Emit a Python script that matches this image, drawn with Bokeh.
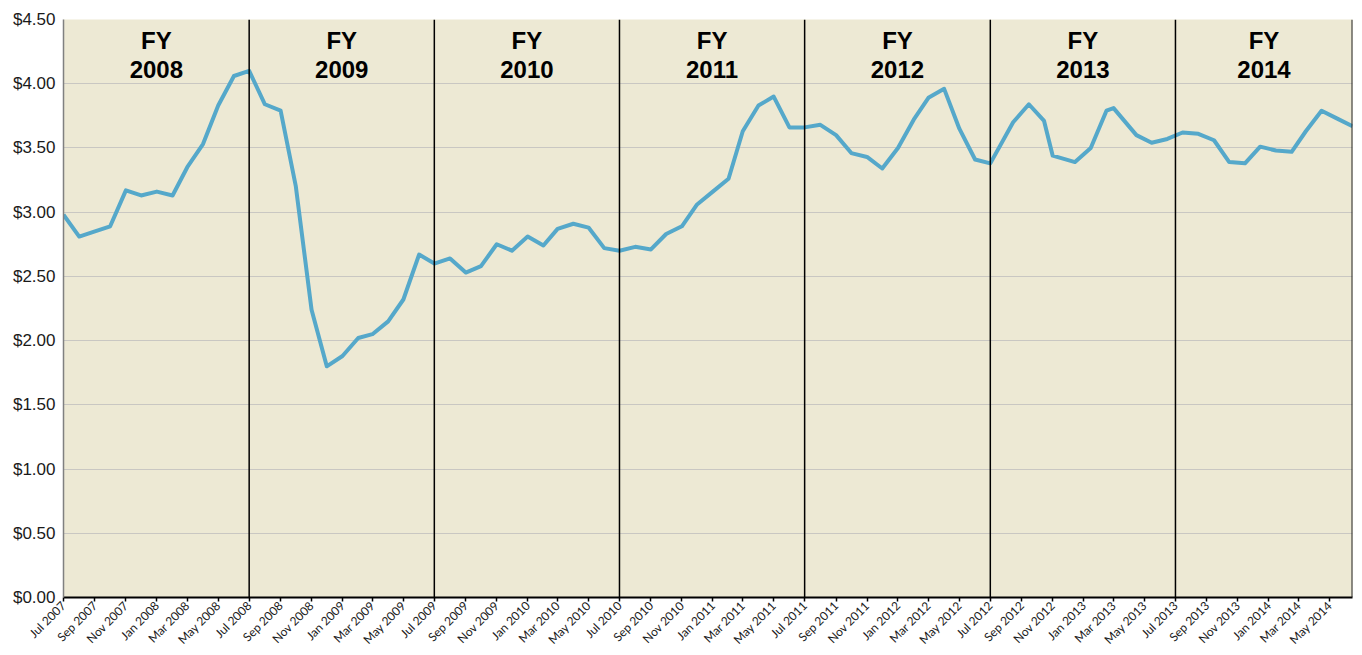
import math
import pandas as pd
from bokeh.plotting import figure
from bokeh.models import (Range1d, FixedTicker, DatetimeTickFormatter, Span,
                          NumeralTickFormatter, ColumnDataSource)
from bokeh.core.properties import value
from bokeh.embed import file_html
from bokeh.resources import INLINE

# ---- data ----
dates = [
    "2007-07-01", "2007-08-01", "2007-09-01", "2007-10-01", "2007-11-01", "2007-12-01",
    "2008-01-01", "2008-02-01", "2008-03-01", "2008-04-01", "2008-05-01", "2008-06-01",
    "2008-07-01", "2008-08-01", "2008-09-01", "2008-10-01", "2008-11-01", "2008-12-01",
    "2009-01-01", "2009-02-01", "2009-03-01", "2009-04-01", "2009-05-01", "2009-06-01",
    "2009-07-01", "2009-08-01", "2009-09-01", "2009-10-01", "2009-11-01", "2009-12-01",
    "2010-01-01", "2010-02-01", "2010-03-01", "2010-04-01", "2010-05-01", "2010-06-01",
    "2010-07-01", "2010-08-01", "2010-09-01", "2010-10-01", "2010-11-01", "2010-12-01",
    "2011-01-01", "2011-02-01", "2011-03-01", "2011-04-01", "2011-05-01", "2011-06-01",
    "2011-07-01", "2011-08-01", "2011-09-01", "2011-10-01", "2011-11-01", "2011-12-01",
    "2012-01-01", "2012-02-01", "2012-03-01", "2012-04-01", "2012-05-01", "2012-06-01",
    "2012-07-01", "2012-08-15", "2012-09-15", "2012-10-15", "2012-11-01", "2012-12-15",
    "2013-01-15", "2013-02-15", "2013-03-01", "2013-04-15", "2013-05-15", "2013-06-15",
    "2013-07-15", "2013-08-15", "2013-09-15", "2013-10-15", "2013-11-15", "2013-12-15",
    "2014-01-15", "2014-02-15", "2014-03-15", "2014-04-15", "2014-05-15", "2014-06-15",
]
prices = [
    2.98, 2.81, 2.85, 2.89, 3.17, 3.13,
    3.16, 3.13, 3.35, 3.53, 3.83, 4.06,
    4.10, 3.84, 3.79, 3.20, 2.24, 1.80,
    1.88, 2.02, 2.05, 2.15, 2.32, 2.67,
    2.60, 2.64, 2.53, 2.58, 2.75, 2.70,
    2.81, 2.74, 2.87, 2.91, 2.88, 2.72,
    2.70, 2.73, 2.71, 2.83, 2.89, 3.06,
    3.16, 3.26, 3.63, 3.83, 3.90, 3.66,
    3.66, 3.68, 3.60, 3.46, 3.43, 3.34,
    3.50, 3.72, 3.89, 3.96, 3.65, 3.41,
    3.38, 3.70, 3.84, 3.71, 3.44, 3.39,
    3.50, 3.79, 3.81, 3.60, 3.54, 3.57,
    3.62, 3.61, 3.56, 3.39, 3.38, 3.51,
    3.48, 3.47, 3.63, 3.79, 3.73, 3.67,
]
fiscal_years = ["2008", "2009", "2010", "2011", "2012", "2013", "2014"]
fy_starts = ["2007-07-01", "2008-07-01", "2009-07-01", "2010-07-01",
             "2011-07-01", "2012-07-01", "2013-07-01"]
fy_ends = ["2008-07-01", "2009-07-01", "2010-07-01", "2011-07-01",
           "2012-07-01", "2013-07-01", "2014-07-01"]
tick_dates = ["2007-07-01", "2007-09-01", "2007-11-01", "2008-01-01", "2008-03-01", "2008-05-01",
              "2008-07-01", "2008-09-01", "2008-11-01", "2009-01-01", "2009-03-01", "2009-05-01",
              "2009-07-01", "2009-09-01", "2009-11-01", "2010-01-01", "2010-03-01", "2010-05-01",
              "2010-07-01", "2010-09-01", "2010-11-01", "2011-01-01", "2011-03-01", "2011-05-01",
              "2011-07-01", "2011-09-01", "2011-11-01", "2012-01-01", "2012-03-01", "2012-05-01",
              "2012-07-01", "2012-09-01", "2012-11-01", "2013-01-01", "2013-03-01", "2013-05-01",
              "2013-07-01", "2013-09-01", "2013-11-01", "2014-01-01", "2014-03-01", "2014-05-01"]
y_ticks = [0.0, 0.5, 1.0, 1.5, 2.0, 2.5, 3.0, 3.5, 4.0, 4.5]


def ms(d):
    return pd.Timestamp(d).value / 1e6


xs = [ms(d) for d in dates]
x_start, x_end = xs[0], xs[-1]

p = figure(width=1360, height=655, output_backend="svg", toolbar_location=None,
           x_axis_type="datetime",
           x_range=Range1d(x_start, x_end), y_range=Range1d(0, 4.5),
           min_border_left=63, min_border_right=8, min_border_top=19, min_border_bottom=56)

p.background_fill_color = "#EDE9D4"
p.border_fill_color = "white"
p.outline_line_color = None

# grid
p.xgrid.grid_line_color = None
p.ygrid.ticker = FixedTicker(ticks=y_ticks)
p.ygrid.grid_line_color = "#C9C7C2"
p.ygrid.grid_line_width = 1

# y axis
p.yaxis.ticker = FixedTicker(ticks=y_ticks)
p.yaxis.formatter = NumeralTickFormatter(format="$0.00")
p.yaxis.major_label_text_font = "Liberation Sans"
p.yaxis.major_label_text_font_size = "17px"
p.yaxis.major_label_text_color = "#1a1a1a"
p.yaxis.major_tick_out = 0
p.yaxis.major_tick_in = 0
p.yaxis.minor_tick_out = 0
p.yaxis.minor_tick_in = 0
p.yaxis.major_label_standoff = 8
p.yaxis.axis_line_color = "#808080"
p.yaxis.axis_line_width = 1.5

# x axis
p.xaxis.ticker = FixedTicker(ticks=[ms(d) for d in tick_dates])
fmt = "%b %Y"
p.xaxis.formatter = DatetimeTickFormatter(
    microseconds=fmt, milliseconds=fmt, seconds=fmt, minsec=fmt, minutes=fmt,
    hourmin=fmt, hours=fmt, days=fmt, months=fmt, years=fmt)
p.xaxis.major_label_orientation = math.pi / 4
p.xaxis.major_label_text_font = "Lato"
p.xaxis.major_label_text_font_size = "12px"
p.xaxis.major_label_text_color = "#1a1a1a"
p.xaxis.major_label_standoff = 2
p.xaxis.major_tick_out = 4
p.xaxis.major_tick_in = 0
p.xaxis.minor_tick_out = 0
p.xaxis.minor_tick_in = 0
p.xaxis.major_tick_line_color = "black"
p.xaxis.major_tick_line_width = 1.5
p.xaxis.axis_line_color = "black"
p.xaxis.axis_line_width = 2

# fiscal-year separators
for s in fy_starts[1:]:
    p.add_layout(Span(location=ms(s), dimension="height", line_color="black", line_width=1.5))
p.add_layout(Span(location=x_end, dimension="height", line_color="#222222", line_width=2))

# price line
src = ColumnDataSource(dict(x=xs, y=prices))
p.line("x", "y", source=src, line_color="#55A8CA", line_width=4, line_join="round")

# FY labels centred on the visible part of each fiscal year
cx = [(max(ms(a), x_start) + min(ms(b), x_end)) / 2 for a, b in zip(fy_starts, fy_ends)]
p.text(x=cx, y=[4.333] * len(cx), text=["FY"] * len(cx),
       text_font=value("Liberation Sans"), text_font_style="bold", text_font_size="24px",
       text_align="center", text_baseline="middle", text_color="black")
p.text(x=cx, y=[4.114] * len(cx), text=fiscal_years,
       text_font=value("Liberation Sans"), text_font_style="bold", text_font_size="24px",
       text_align="center", text_baseline="middle", text_color="black")

open("out.html", "w").write(file_html(p, INLINE))
